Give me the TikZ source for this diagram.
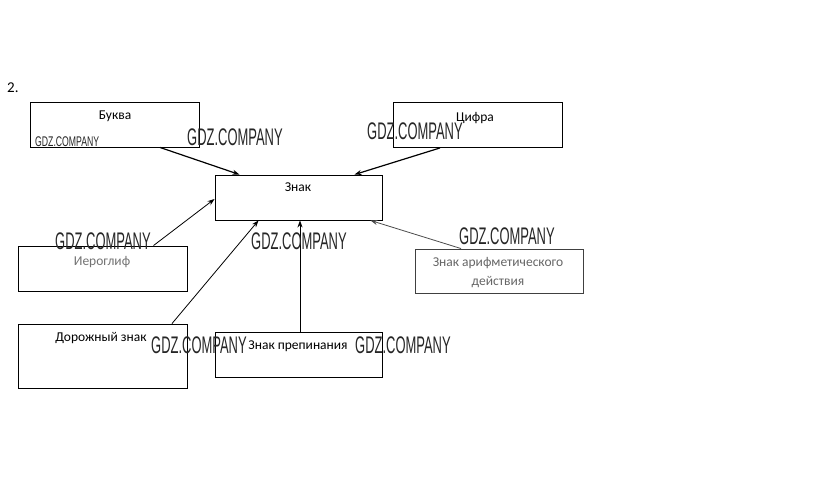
\documentclass[tikz,border=0pt]{standalone}
\usepackage{fontspec}
\setmainfont{Carlito}
\newfontfamily\wmfont[FakeStretch=0.54]{Liberation Sans}
\newfontfamily\wmsmallfont[FakeStretch=0.62]{Liberation Sans}
\usetikzlibrary{arrows.meta,calc}
\tikzset{
  box/.style={draw=black, line width=0.9pt, minimum width=169pt, minimum height=45pt, inner sep=0pt},
  lbl/.style={font=\fontsize{13.5}{15}\selectfont, inner sep=0pt, text=black},
  wm/.style={font=\wmfont\fontsize{24}{24}\selectfont, inner sep=0pt, text=black!85},
  wmsmall/.style={font=\wmsmallfont\fontsize{14}{14}\selectfont, inner sep=0pt, text=black!85},
  arr/.style={draw=black, line width=0.8pt, -{Stealth[length=7pt,width=5pt]}},
}
\begin{document}
\begin{tikzpicture}[x=1pt,y=-1pt]
\useasboundingbox[fill=white] (0,0) rectangle (823,495);
% number
\node[lbl, anchor=west, font=\fontsize{15}{15}\selectfont] (num) at (7,88) {2.};
% boxes
\node[box] (bukva) at (114.5,124.5) {};
\node[box] (cifra) at (477.5,125) {};
\node[box, minimum width=167pt] (znak) at (298.5,197.5) {};
\node[box] (ierog) at (102.5,268.5) {};
\node[box, minimum height=64pt] (doroga) at (102.5,356) {};
\node[box, minimum width=167pt] (prep) at (298.5,354.5) {};
\node[box, minimum width=168pt, minimum height=44pt, draw=black!75] (arif) at (499,271) {};
% texts
\node[lbl] (tbukva) at (115,116) {Буква};
\node[lbl] (tcifra) at (475,118) {Цифра};
\node[lbl] (tznak) at (298,187) {Знак};
\node[lbl, text=black!55] (tierog) at (102,262) {Иероглиф};
\node[lbl] (tdoroga) at (101,338) {Дорожный знак};
\node[lbl] (tprep) at (298,346) {Знак препинания};
\node[lbl, text=black!60] (tarif1) at (498,263) {Знак арифметического};
\node[lbl, text=black!60] (tarif2) at (498,282) {действия};
% arrows
\draw[arr, line width=1.2pt] ([xshift=45.5pt]bukva.south) -- ([xshift=-59pt]znak.north);
\draw[arr, line width=1.2pt] ([xshift=-37.5pt]cifra.south) -- ([xshift=56pt]znak.north);
\draw[arr] ([xshift=51pt]ierog.north) -- ([yshift=-1.5pt]znak.west);
\draw[arr] ([xshift=69.5pt]doroga.north) -- ([xshift=-40pt]znak.south);
\draw[arr] ([xshift=1.5pt]prep.north) -- ([xshift=1.5pt]znak.south);
\draw[arr, draw=black!70] ([xshift=-38pt]arif.north) -- ([xshift=72pt]znak.south);
% watermarks
\node[wmsmall, anchor=south west] (w1) at (35,147) {GDZ.COMPANY};
\node[wm, anchor=south west] (w2) at (187,146) {GDZ.COMPANY};
\node[wm, anchor=south west] (w3) at (367,140) {GDZ.COMPANY};
\node[wm, anchor=south west] (w4) at (55,250) {GDZ.COMPANY};
\node[wm, anchor=south west] (w5) at (251,250) {GDZ.COMPANY};
\node[wm, anchor=south west] (w6) at (459,245) {GDZ.COMPANY};
\node[wm, anchor=south west] (w7) at (151,354) {GDZ.COMPANY};
\node[wm, anchor=south west] (w8) at (355,354) {GDZ.COMPANY};
\end{tikzpicture}
\end{document}
